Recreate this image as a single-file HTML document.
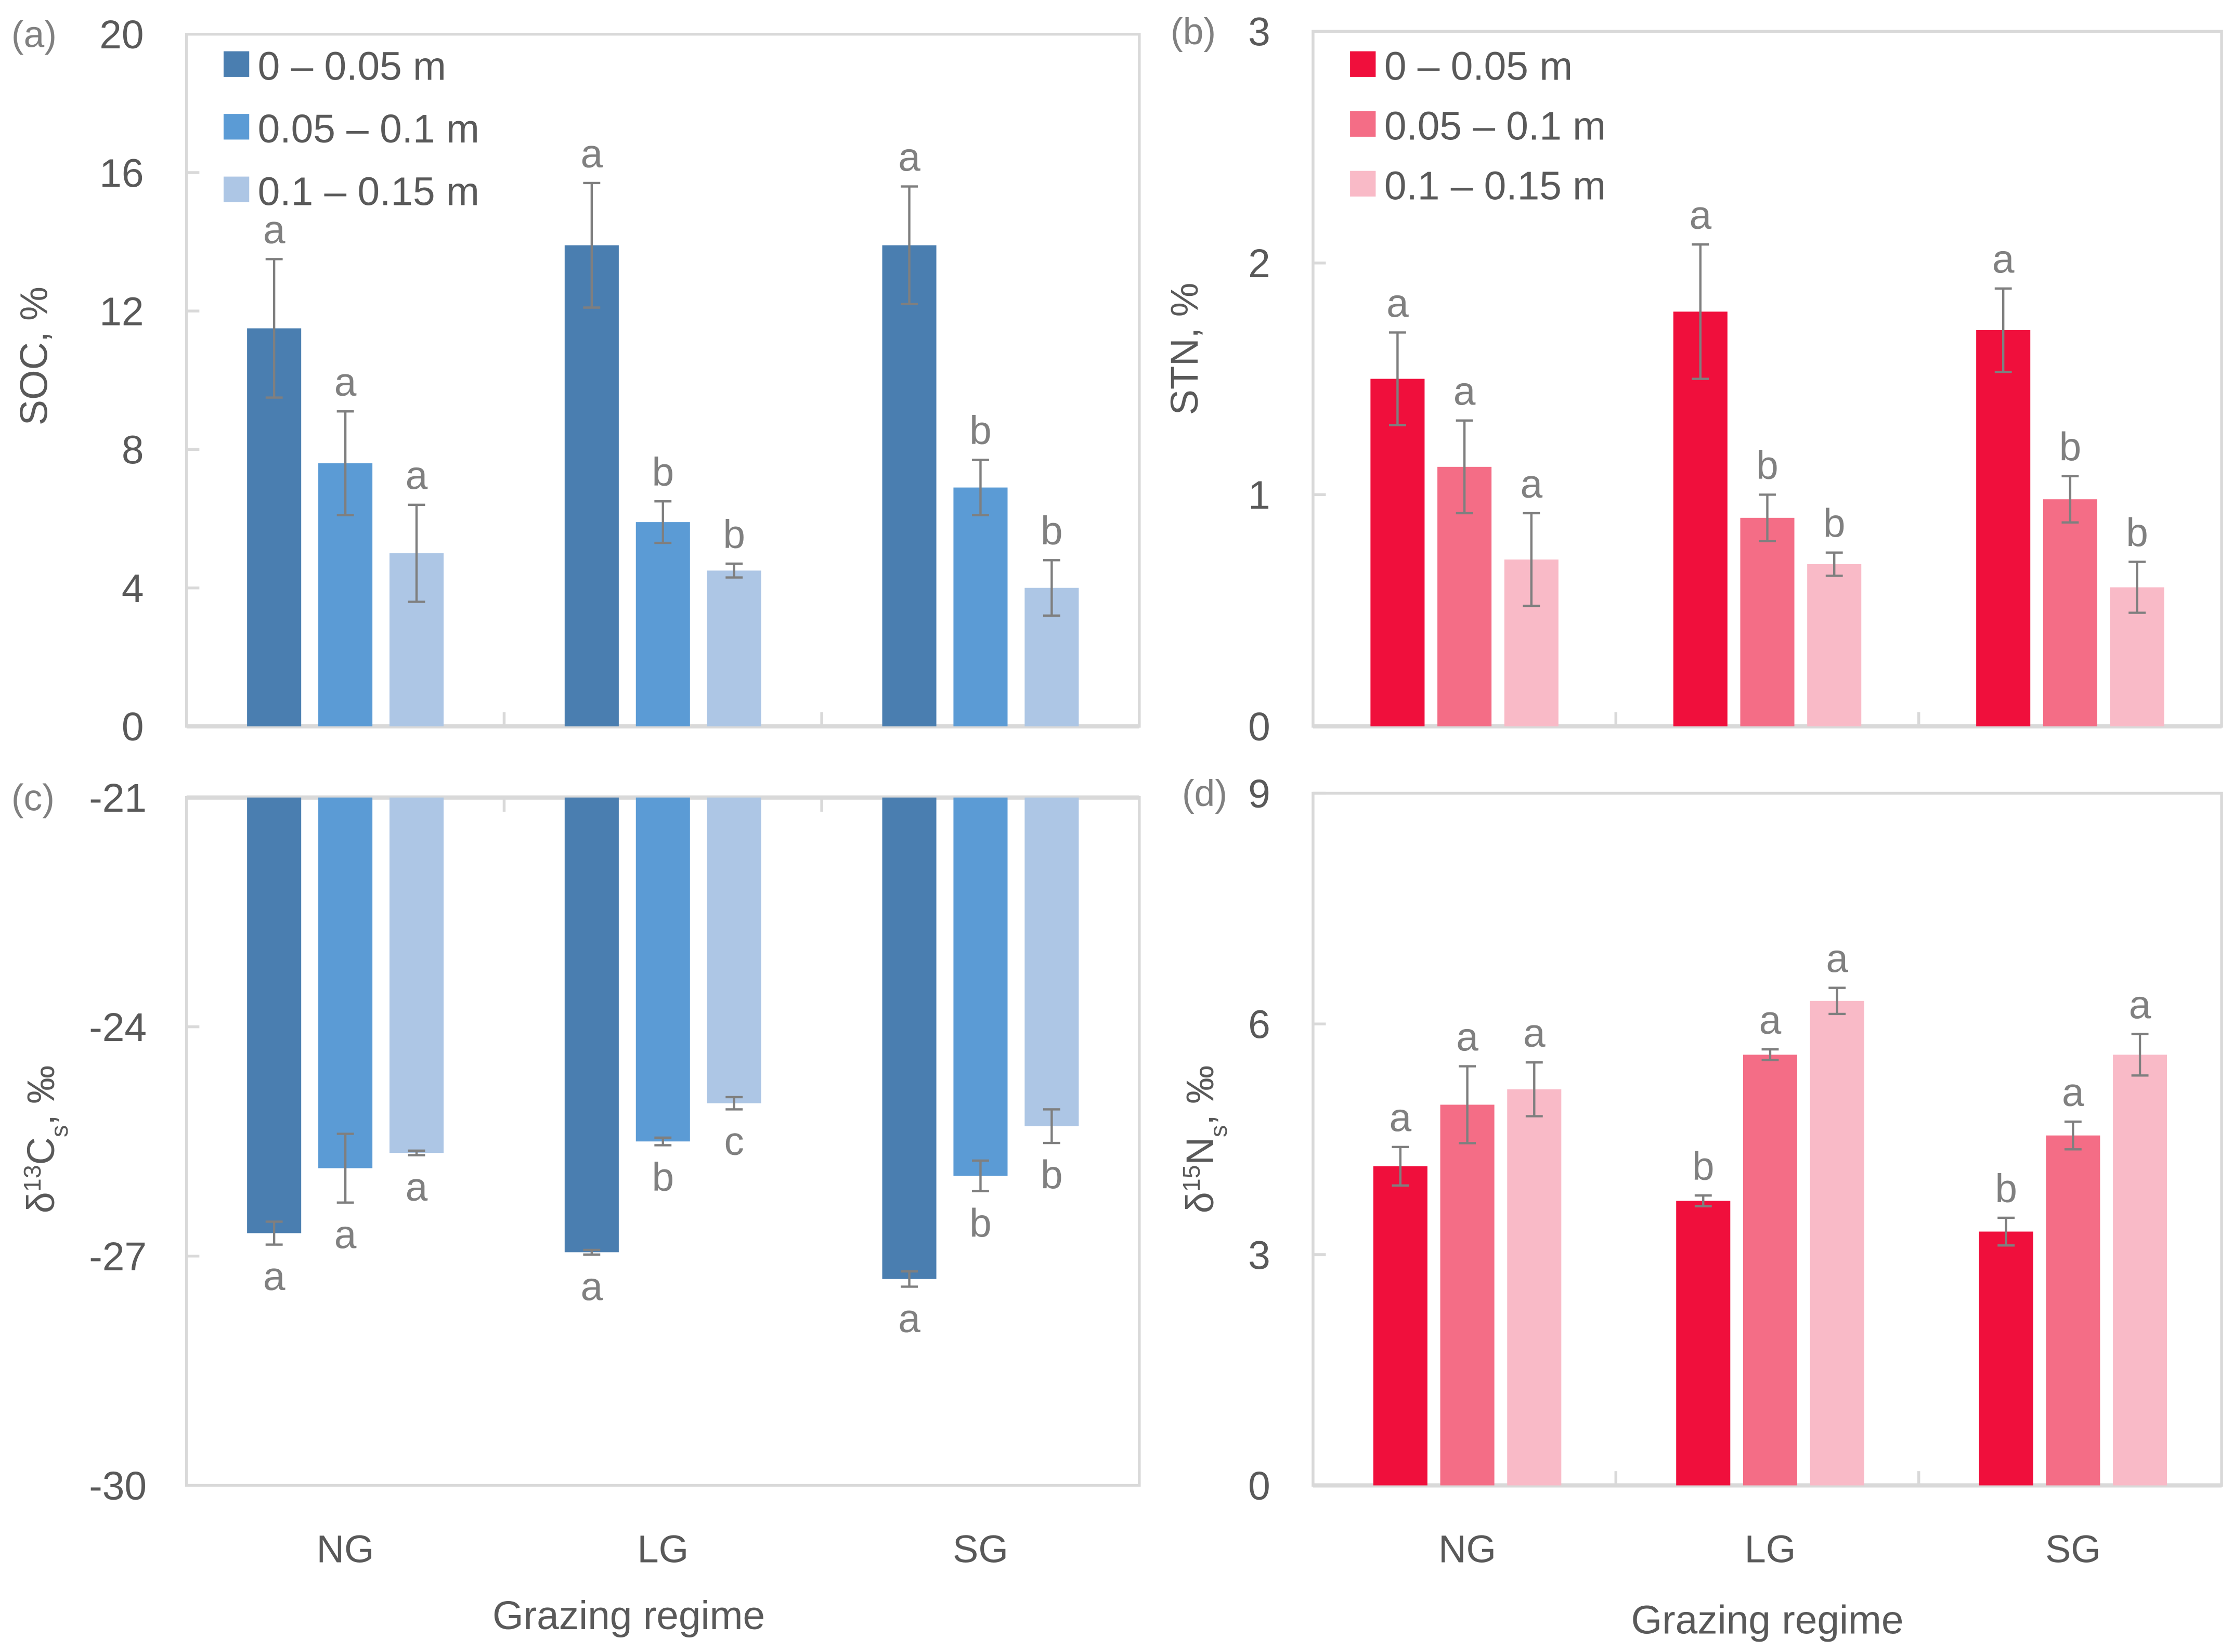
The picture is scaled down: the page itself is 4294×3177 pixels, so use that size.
<!DOCTYPE html>
<html><head><meta charset="utf-8"><style>
html,body{margin:0;padding:0;background:#fff;}
svg{display:block;font-family:"Liberation Sans",sans-serif;}
</style></head><body>
<svg id="fig" width="4294" height="3177" viewBox="0 0 1568 1160" preserveAspectRatio="none" xmlns="http://www.w3.org/2000/svg"></svg>
<script>
const categories = ["NG","LG","SG"];
const depthLabels = ["0 – 0.05 m","0.05 – 0.1 m","0.1 – 0.15 m"];
// panel a: SOC
const socValues = [[11.5,13.9,13.9],[7.6,5.9,6.9],[5.0,4.5,4.0]];
const socErrors = [[2.0,1.8,1.7],[1.5,0.6,0.8],[1.4,0.2,0.8]];
const socLetters = [["a","a","a"],["a","b","b"],["a","b","b"]];
const socTicks = [0,4,8,12,16,20];
// panel b: STN
const stnValues = [[1.5,1.79,1.71],[1.12,0.9,0.98],[0.72,0.7,0.6]];
const stnErrors = [[0.2,0.29,0.18],[0.2,0.1,0.1],[0.2,0.05,0.11]];
const stnLetters = [["a","a","a"],["a","b","b"],["a","b","b"]];
const stnTicks = [0,1,2,3];
// panel c: d13C
const c13Values = [[-26.7,-26.95,-27.3],[-25.85,-25.5,-25.95],[-25.65,-25.0,-25.3]];
const c13Errors = [[0.15,0.03,0.1],[0.45,0.05,0.2],[0.03,0.08,0.22]];
const c13Letters = [["a","a","a"],["a","b","b"],["a","c","b"]];
const c13Ticks = [-30,-27,-24,-21];
// panel d: d15N
const n15Values = [[4.15,3.7,3.3],[4.95,5.6,4.55],[5.15,6.3,5.6]];
const n15Errors = [[0.25,0.07,0.18],[0.5,0.07,0.18],[0.35,0.17,0.27]];
const n15Letters = [["a","b","b"],["a","a","a"],["a","a","a"]];
const n15Ticks = [0,3,6,9];

const NS="http://www.w3.org/2000/svg";
const svg=document.getElementById('fig');
function mk(tag,attrs,parent,text){const e=document.createElementNS(NS,tag);for(const k in attrs)e.setAttribute(k,attrs[k]);if(text!==undefined)e.textContent=text;(parent||svg).appendChild(e);return e;}
const GRAY="#595959", FRAME="#d9d9d9", ERR="#7f7f7f";

function panel(o){
  const g=mk('g',{});
  
  
  const {L,R,T,B,min,max}=o;
  const y=v=>B-(v-min)/(max-min)*(B-T);
  const groupW=(R-L)/3;
  const xc=(ci,si)=>L+groupW*(ci+0.5)+(si-1)*o.step+o.shift;
  const fr=mk('rect',{x:L,y:T,width:R-L,height:B-T,fill:'none',stroke:FRAME,'stroke-width':2},g);
  
  const baseY=o.hang?T:B;
  const ax=mk('line',{x1:L,x2:R,y1:baseY,y2:baseY,stroke:FRAME,'stroke-width':3},g);
  
  for(let i=1;i<3;i++){const tx=L+groupW*i;mk('line',{x1:tx,x2:tx,y1:baseY,y2:baseY+(o.hang?10:-10),stroke:FRAME,'stroke-width':2},g);}
  o.ticks.forEach(t=>{
    mk('line',{x1:L,x2:L+9,y1:y(t),y2:y(t),stroke:FRAME,'stroke-width':2},g);
    const tl=mk('text',{x:o.tickX,y:y(t)+10,'text-anchor':'end','font-size':28,fill:GRAY},g,String(t));
    
  });
  const pl=mk('text',{x:o.lblX,y:T+9,'font-size':26,fill:'#808080'},g,o.label);
  
  for(let s=0;s<3;s++)for(let c=0;c<3;c++){
    const v=o.vals[s][c], e=o.errs[s][c], cx=xc(c,s), w=38;
    const y0=o.hang?y(max):y(0), y1=y(v);
    const r=mk('rect',{x:cx-w/2,y:Math.min(y0,y1),width:w,height:Math.abs(y1-y0),fill:o.colors[s]},g);
    
    
    const ya=y(v+e), yb=y(v-e);
    mk('line',{x1:cx,x2:cx,y1:ya,y2:yb,stroke:ERR,'stroke-width':1.6},g);
    mk('line',{x1:cx-6,x2:cx+6,y1:ya,y2:ya,stroke:ERR,'stroke-width':1.6},g);
    mk('line',{x1:cx-6,x2:cx+6,y1:yb,y2:yb,stroke:ERR,'stroke-width':1.6},g);
    const ly=o.hang?yb+32:ya-11;
    const lt=mk('text',{x:cx,y:ly,'text-anchor':'middle','font-size':28,fill:'#808080'},g,o.letters[s][c]);
    
  }
  const yt=mk('text',{transform:`translate(${o.ytX},${o.ytY}) rotate(-90)`,'text-anchor':'middle','font-size':27,fill:GRAY},g);
  
  if(o.iso){
    mk('tspan',{},yt,'δ');mk('tspan',{'baseline-shift':'super','font-size':17},yt,o.iso);
    mk('tspan',{},yt,o.el);mk('tspan',{'baseline-shift':'sub','font-size':17},yt,'s');mk('tspan',{},yt,',  ‰');
  } else yt.textContent=o.ytitle;
  if(o.legend){
    for(let s=0;s<3;s++){
      const ly=o.legY[s];
      const lg=mk('g',{},g);
      
      mk('rect',{x:o.legX,y:ly-10,width:18,height:18,fill:o.colors[s]},lg);
      mk('text',{x:o.legX+24,y:ly+10,'font-size':28,fill:GRAY},lg,depthLabels[s]);
    }
  }
  if(o.xlabels){
    categories.forEach((c,i)=>{
      const t=mk('text',{x:L+groupW*(i+0.5)+o.shift,y:1097,'text-anchor':'middle','font-size':27,fill:GRAY},g,c);
      
    });
    const xt=mk('text',{x:(L+R)/2+o.xtShift,y:o.xtY,'text-anchor':'middle','font-size':28,fill:GRAY},g,'Grazing regime');
    
  }
}
const blues=["#4a7eb0","#5b9bd5","#adc6e5"], reds=["#f00f3c","#f46d86","#f9bac7"];
panel({name:'panel-a-soc',L:131,R:800,T:24,B:510,min:0,max:20,ticks:socTicks,vals:socValues,errs:socErrors,letters:socLetters,colors:blues,step:50,shift:0,tickX:101,lblX:8,label:'(a)',ytX:33,ytY:250,ytitle:'SOC, %',legend:true,legX:157,legY:[46,90,134]});
panel({name:'panel-b-stn',L:922,R:1560,T:22,B:510,min:0,max:3,ticks:stnTicks,vals:stnValues,errs:stnErrors,letters:stnLetters,colors:reds,step:47,shift:0,tickX:892,lblX:822,label:'(b)',ytX:841,ytY:245,ytitle:'STN, %',legend:true,legX:948,legY:[46,88,130]});
panel({name:'panel-c-d13c',L:131,R:800,T:560,B:1043,min:-30,max:-21,ticks:c13Ticks,vals:c13Values,errs:c13Errors,letters:c13Letters,colors:blues,step:50,shift:0,tickX:103,lblX:8,label:'(c)',ytX:38,ytY:800,iso:'13',el:'C',hang:true,xlabels:true,xtY:1144,xtShift:-24});
panel({name:'panel-d-d15n',L:922,R:1560,T:557,B:1043,min:0,max:9,ticks:n15Ticks,vals:n15Values,errs:n15Errors,letters:n15Letters,colors:reds,step:47,shift:2,tickX:892,lblX:830,label:'(d)',ytX:852,ytY:800,iso:'15',el:'N',xlabels:true,xtY:1147,xtShift:0});
</script>
</body></html>
